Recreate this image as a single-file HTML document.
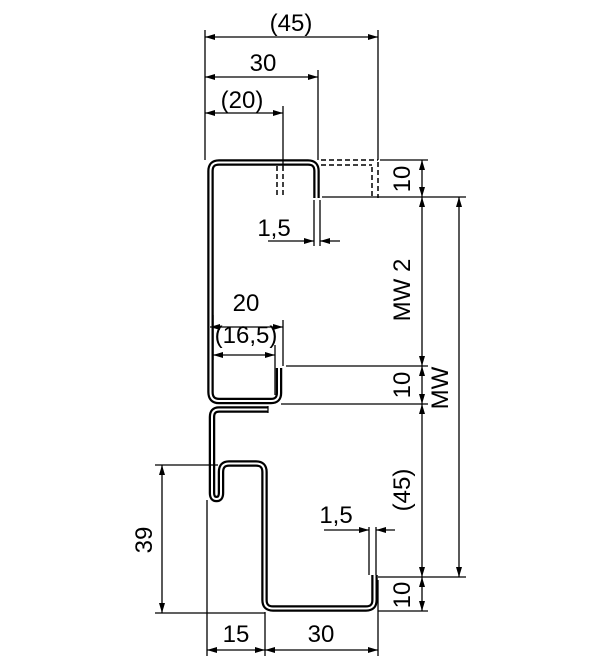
<!DOCTYPE html>
<html><head><meta charset="utf-8"><style>
html,body{margin:0;padding:0;background:#fff;}
svg{display:block;}
text{font-family:"Liberation Sans Narrow","Liberation Sans",sans-serif;font-size:24px;fill:#000;}
</style></head><body>
<svg width="600" height="660" viewBox="0 0 600 660" xmlns="http://www.w3.org/2000/svg">
<defs>
<marker id="a" viewBox="0 0 10 6" refX="10" refY="3" markerWidth="10" markerHeight="6" orient="auto-start-reverse" markerUnits="userSpaceOnUse"><path d="M0,0 L10,3 L0,6 z" fill="#000"/></marker>
</defs>
<g fill="none" stroke-linejoin="round" stroke-linecap="butt">
<path d="M316.5,198 V171 Q316.5,162.5 308,162.5 H219 Q210.5,162.5 210.5,171 V392 Q210.5,401 219,401 H271 Q279,401 279,393 V368" stroke="#000" stroke-width="6.5"/>
<path d="M316.5,198 V171 Q316.5,162.5 308,162.5 H219 Q210.5,162.5 210.5,171 V392 Q210.5,401 219,401 H271 Q279,401 279,393 V368" stroke="#fff" stroke-width="2"/>
<path d="M268,409.5 H219 Q212,409.5 212,417 V493 Q212,499 216.5,499 Q221,499 221,493 V472 Q221,463.5 229,463.5 H256 Q264.5,463.5 264.5,472 V600 Q264.5,608.5 273,608.5 H366 Q374.5,608.5 374.5,600 V575" stroke="#000" stroke-width="6.5"/>
<path d="M268,409.5 H219 Q212,409.5 212,417 V493 Q212,499 216.5,499 Q221,499 221,493 V472 Q221,463.5 229,463.5 H256 Q264.5,463.5 264.5,472 V600 Q264.5,608.5 273,608.5 H366 Q374.5,608.5 374.5,600 V575" stroke="#fff" stroke-width="2"/>
<line x1="268" y1="406" x2="268" y2="413" stroke="#000" stroke-width="1.2"/>
<g stroke="#000" stroke-width="1.5" stroke-dasharray="5,3">
<line x1="277" y1="166" x2="277" y2="198"/><line x1="283" y1="166" x2="283" y2="198"/>
<line x1="321" y1="160" x2="378" y2="160"/><line x1="321" y1="165" x2="372" y2="165"/>
<line x1="372" y1="167" x2="372" y2="198"/><line x1="378" y1="162" x2="378" y2="198"/>
</g>
<g stroke="#000" stroke-width="1.3">
<line x1="205" y1="30" x2="205" y2="160"/>
<line x1="378" y1="30" x2="378" y2="160"/>
<line x1="318" y1="70" x2="318" y2="160"/>
<line x1="283" y1="106" x2="283" y2="166"/>
<line x1="205" y1="37" x2="378" y2="37" marker-start="url(#a)" marker-end="url(#a)"/>
<line x1="205" y1="77" x2="318" y2="77" marker-start="url(#a)" marker-end="url(#a)"/>
<line x1="205" y1="113" x2="283" y2="113" marker-start="url(#a)" marker-end="url(#a)"/>
<line x1="314" y1="200" x2="314" y2="246"/><line x1="320" y1="200" x2="320" y2="246"/>
<line x1="268" y1="241" x2="314" y2="241" marker-end="url(#a)"/>
<line x1="340" y1="241" x2="320" y2="241" marker-end="url(#a)"/>
<line x1="380" y1="160" x2="428" y2="160"/>
<line x1="322" y1="197" x2="466" y2="197"/>
<line x1="286" y1="366" x2="428" y2="366"/>
<line x1="281" y1="404" x2="428" y2="404"/>
<line x1="378" y1="577" x2="466" y2="577"/>
<line x1="378" y1="611" x2="428" y2="611"/>
<line x1="422" y1="160" x2="422" y2="197" marker-start="url(#a)" marker-end="url(#a)"/>
<line x1="422" y1="197" x2="422" y2="366" marker-start="url(#a)" marker-end="url(#a)"/>
<line x1="422" y1="366" x2="422" y2="404" marker-start="url(#a)" marker-end="url(#a)"/>
<line x1="422" y1="404" x2="422" y2="577" marker-start="url(#a)" marker-end="url(#a)"/>
<line x1="422" y1="577" x2="422" y2="611" marker-start="url(#a)" marker-end="url(#a)"/>
<line x1="459" y1="197" x2="459" y2="577" marker-start="url(#a)" marker-end="url(#a)"/>
<line x1="283" y1="320" x2="283" y2="366"/>
<line x1="275" y1="345" x2="275" y2="395"/>
<line x1="210" y1="327" x2="283" y2="327" marker-start="url(#a)" marker-end="url(#a)"/>
<line x1="213" y1="355" x2="275" y2="355" marker-start="url(#a)" marker-end="url(#a)"/>
<line x1="213" y1="315" x2="213" y2="360"/>
<line x1="369" y1="527" x2="369" y2="575"/><line x1="376" y1="527" x2="376" y2="575"/>
<line x1="324" y1="530" x2="369" y2="530" marker-end="url(#a)"/>
<line x1="395" y1="530" x2="376" y2="530" marker-end="url(#a)"/>
<line x1="155" y1="465" x2="218" y2="465"/>
<line x1="155" y1="613" x2="265" y2="613"/>
<line x1="162" y1="465" x2="162" y2="613" marker-start="url(#a)" marker-end="url(#a)"/>
<line x1="207" y1="500" x2="207" y2="656"/>
<line x1="265" y1="612" x2="265" y2="656"/>
<line x1="378" y1="580" x2="378" y2="656"/>
<line x1="207" y1="650" x2="265" y2="650" marker-start="url(#a)" marker-end="url(#a)"/>
<line x1="265" y1="650" x2="378" y2="650" marker-start="url(#a)" marker-end="url(#a)"/>
</g>
</g>
<text x="291" y="31" text-anchor="middle">(45)</text>
<text x="263" y="71" text-anchor="middle">30</text>
<text x="242" y="108" text-anchor="middle">(20)</text>
<text x="274" y="236" text-anchor="middle">1,5</text>
<text x="246" y="311" text-anchor="middle">20</text>
<text x="246" y="343" text-anchor="middle">(16,5)</text>
<text x="336" y="523" text-anchor="middle">1,5</text>
<text x="236" y="642" text-anchor="middle">15</text>
<text x="321" y="642" text-anchor="middle">30</text>
<text transform="translate(410,179) rotate(-90)" text-anchor="middle">10</text>
<text transform="translate(410,290) rotate(-90)" text-anchor="middle">MW 2</text>
<text transform="translate(410,385) rotate(-90)" text-anchor="middle">10</text>
<text transform="translate(448,388) rotate(-90)" text-anchor="middle">MW</text>
<text transform="translate(410,490) rotate(-90)" text-anchor="middle">(45)</text>
<text transform="translate(410,595) rotate(-90)" text-anchor="middle">10</text>
<text transform="translate(152,540) rotate(-90)" text-anchor="middle">39</text>
</svg>
</body></html>
